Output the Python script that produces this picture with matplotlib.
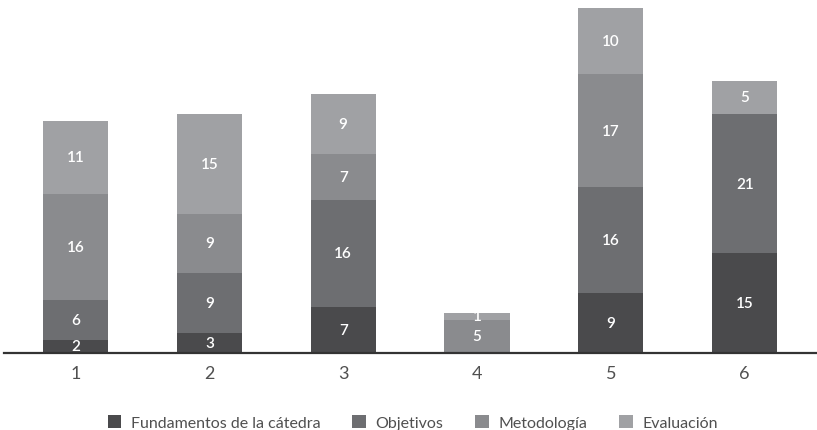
import matplotlib
matplotlib.use("Agg")
import matplotlib.pyplot as plt
import numpy as np

plt.rcParams["font.family"] = ["Lato", "DejaVu Sans"]

categories = ["1", "2", "3", "4", "5", "6"]
series_names = ["Fundamentos de la cátedra", "Objetivos", "Metodología", "Evaluación"]
fundamentos = [2, 3, 7, 0, 9, 15]
objetivos = [6, 9, 16, 0, 16, 21]
metodologia = [16, 9, 7, 5, 17, 0]
evaluacion = [11, 15, 9, 1, 10, 5]
colors = ["#4a4a4c", "#6d6e71", "#8a8b8e", "#a0a1a4"]

fig = plt.figure(figsize=(8.17, 4.31), dpi=100)
ax = fig.add_axes([4 / 817, 77 / 431, 813 / 817, 354 / 431])

x = np.arange(1, len(categories) + 1)
bottom = np.zeros(len(categories))
for name, vals, c in zip(series_names, [fundamentos, objetivos, metodologia, evaluacion], colors):
    vals = np.array(vals, dtype=float)
    ax.bar(x, vals, 0.486, bottom=bottom, color=c, label=name, zorder=2)
    for xi, b, v in zip(x, bottom, vals):
        if v > 0:
            ax.text(xi, b + v / 2, f"{int(v)}", ha="center", va="center",
                    color="white", fontsize=11, fontweight="semibold", zorder=3)
    bottom += vals

ax.set_xlim(0.466, 6.54)
ax.set_ylim(0, 53.3)
for s in ["top", "right", "left"]:
    ax.spines[s].set_visible(False)
ax.spines["bottom"].set_color("#333333")
ax.spines["bottom"].set_linewidth(1.6)
ax.spines["bottom"].set_zorder(4)
ax.set_yticks([])
ax.set_xticks(x)
ax.set_xticklabels(categories, fontsize=13, color="#505050")
ax.tick_params(axis="x", length=0, pad=9)

ax.legend(loc="upper center", bbox_to_anchor=(0.503, -0.135), ncol=4, frameon=False,
          prop={"size": 11.5}, handlelength=0.85, handleheight=0.85,
          handletextpad=0.6, columnspacing=2.0, labelcolor="#505050")

fig.savefig("out.png", dpi=100)
plt.close(fig)
